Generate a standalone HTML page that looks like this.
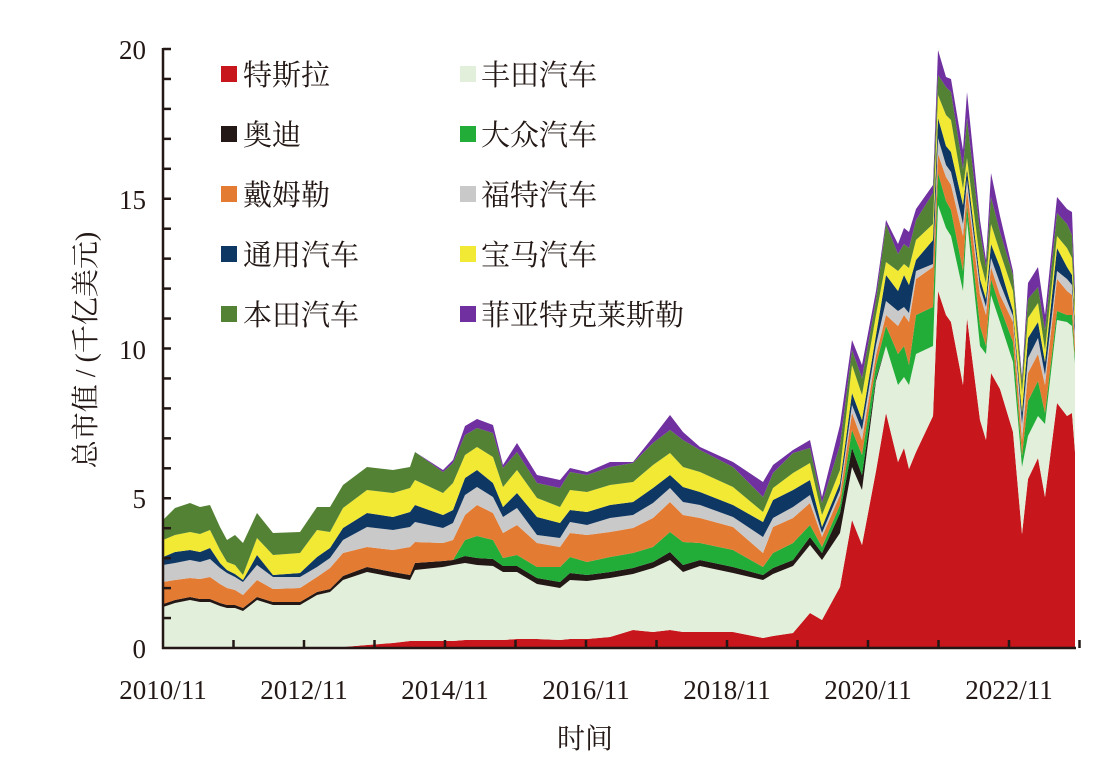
<!DOCTYPE html>
<html><head><meta charset="utf-8"><style>
body{margin:0;background:#fff;}
svg text{font-family:"Liberation Serif","Noto Serif CJK SC","Noto Sans CJK SC",serif;fill:#231815;}
</style></head><body>
<svg id="c" width="1100" height="766" viewBox="0 0 1100 766" xmlns="http://www.w3.org/2000/svg">
<g id="areas"></g>
<g stroke="#231815" stroke-width="2.5" fill="none">
<line x1="163" y1="48" x2="163" y2="649"/>
<line x1="162" y1="648" x2="1076" y2="648"/>
</g>
<g id="ticks" stroke="#231815" stroke-width="2.5"></g>
<g font-size="27" text-anchor="end">
<text x="146" y="658">0</text><text x="146" y="508">5</text><text x="146" y="359">10</text><text x="146" y="209">15</text><text x="146" y="59">20</text>
</g>
<g font-size="27" text-anchor="middle">
<text x="163" y="699">2010/11</text><text x="304" y="699">2012/11</text><text x="445" y="699">2014/11</text><text x="586" y="699">2016/11</text><text x="727" y="699">2018/11</text><text x="868" y="699">2020/11</text><text x="1009" y="699">2022/11</text>
<text x="585" y="748" font-size="28">时间</text>
<text transform="translate(95,350) rotate(-90)" font-size="28">总市值 / (千亿美元)</text>
</g>
<g font-size="29">
<rect x="221" y="66" width="16" height="16" fill="#c8161d"/><text x="243" y="85">特斯拉</text>
<rect x="221" y="126" width="16" height="16" fill="#231815"/><text x="243" y="145">奥迪</text>
<rect x="221" y="186" width="16" height="16" fill="#e47b33"/><text x="243" y="205">戴姆勒</text>
<rect x="221" y="246" width="16" height="16" fill="#0f3763"/><text x="243" y="265">通用汽车</text>
<rect x="221" y="306" width="16" height="16" fill="#548235"/><text x="243" y="325">本田汽车</text>
<rect x="460" y="66" width="16" height="16" fill="#e2efda"/><text x="481" y="85">丰田汽车</text>
<rect x="460" y="126" width="16" height="16" fill="#22ac38"/><text x="481" y="145">大众汽车</text>
<rect x="460" y="186" width="16" height="16" fill="#c9c9c9"/><text x="481" y="205">福特汽车</text>
<rect x="460" y="246" width="16" height="16" fill="#f1e933"/><text x="481" y="265">宝马汽车</text>
<rect x="460" y="306" width="16" height="16" fill="#7030a0"/><text x="481" y="325">菲亚特克莱斯勒</text>
</g>
</svg>
<script>
var D=[
[163,648,607,604,604,582,565,557,540,520,520],
[175,648,603,600,600,580,563,552,535,508,508],
[190,648,600,597,597,578,560,550,532,503,503],
[200,648,602,599,599,579,562,552,534,507,507],
[210,648,602,599,599,577,559,548,530,505,505],
[220,648,606,603,603,584,568,563,550,527,527],
[227,648,608,605,605,588,573,570,562,540,540],
[235,648,608,605,605,590,577,574,565,535,535],
[243,648,611,608,608,595,582,580,575,543,543],
[257,648,600,597,597,580,565,555,538,513,513],
[273,648,605,602,602,589,577,575,555,533,533],
[300,648,605,602,602,588,577,573,553,532,532],
[317,648,595,592,592,577,567,557,530,507,507],
[330,648,592,589,589,568,558,548,532,507,507],
[343,647,580,576,576,553,540,528,508,485,485],
[367,645,572,567,567,547,527,513,490,467,467],
[393,643,577,572,572,550,530,517,493,470,470],
[410,641,580,575,575,547,527,512,488,467,467],
[415,641,570,563,563,542,522,505,480,452,452],
[443,641,567,561,561,543,528,515,493,472,470],
[453,641,565,560,560,540,523,510,483,463,460],
[465,640,563,556,540,515,495,478,455,435,426],
[477,640,565,558,536,505,487,470,447,428,419],
[493,640,566,559,540,513,497,483,457,433,425],
[503,640,572,566,558,533,517,507,487,468,465],
[517,639,572,566,555,525,508,493,470,452,443],
[537,639,584,578,567,543,535,517,498,483,475],
[560,640,588,582,567,547,538,523,507,488,480],
[570,639,580,573,557,533,522,510,490,472,468],
[587,639,581,575,562,535,525,512,492,475,472],
[610,637,578,572,557,532,518,505,485,467,462],
[633,630,574,568,553,528,515,502,482,463,462],
[653,632,568,562,547,518,503,488,465,443,437],
[670,630,560,552,532,502,488,475,453,430,415],
[683,632,572,565,542,515,502,487,467,440,432],
[700,632,566,560,543,518,505,492,472,450,447],
[733,632,573,567,550,527,517,505,487,467,462],
[763,638,580,575,567,553,537,522,512,497,482],
[773,636,574,568,553,527,518,500,488,473,465],
[793,633,566,560,543,518,507,490,473,453,450],
[810,613,545,537,525,503,495,480,463,448,440],
[822,620,560,553,547,537,533,527,515,503,497],
[840,587,533,513,505,495,490,483,470,445,425],
[852,520,467,448,430,413,405,393,365,350,340],
[862,545,490,475,455,440,430,420,395,378,365],
[876,471,381,378,365,355,345,335,315,300,291],
[886,413,346,346,326,315,301,275,262,224,220],
[898,462,385,385,354,326,311,291,271,254,244],
[904,448,377,377,346,315,307,275,264,244,228],
[909,469,385,385,365,322,313,285,268,248,232],
[916,452,354,354,315,279,271,260,240,220,209],
[933,416,346,346,307,267,264,240,224,193,185],
[938,291,205,205,173,154,138,118,95,75,50],
[946,315,228,228,201,177,165,146,115,87,77],
[951,322,236,236,210,185,172,152,120,92,79],
[963,385,291,291,271,236,224,205,189,169,150],
[967,318,220,220,205,189,180,169,158,118,92],
[980,420,346,346,326,295,287,279,260,232,220],
[986,440,354,354,346,315,307,299,283,267,260],
[991,373,295,295,279,267,258,244,224,197,173],
[1000,389,322,322,307,295,283,267,252,232,216],
[1013,432,362,362,342,322,316,311,291,275,271],
[1022,534,467,467,456,440,424,413,393,381,377],
[1028,479,436,436,401,373,358,338,318,299,283],
[1038,458,416,416,381,354,338,322,303,287,267],
[1045,497,424,424,413,385,375,362,350,330,315],
[1057,403,320,320,311,279,271,248,236,213,197],
[1067,416,322,322,315,291,279,267,248,224,209],
[1072,413,326,326,315,295,285,275,258,235,212],
[1075,452,363,363,356,345,335,325,313,300,290]];
var C=["#c8161d","#e2efda","#231815","#22ac38","#e47b33","#c9c9c9","#0f3763","#f1e933","#548235","#7030a0"];
var s="";
for(var i=1;i<=10;i++){var p=[];
for(var j=0;j<D.length;j++)p.push(D[j][0]+","+D[j][i]);
for(var j=D.length-1;j>=0;j--)p.push(D[j][0]+","+(i==1?648:D[j][i-1]));
s+='<polygon points="'+p.join(" ")+'" fill="'+C[i-1]+'"/>';}
document.getElementById("areas").innerHTML=s;
var t="";
for(var v=1;v<=20;v++){var y=648-v*29.95;t+='<line x1="163" x2="171" y1="'+y+'" y2="'+y+'"/>';}
for(var k=1;k<=13;k++){var x=163+k*70.5;t+='<line x1="'+x+'" x2="'+x+'" y1="648" y2="640"/>';}
document.getElementById("ticks").innerHTML=t;
</script>
</body></html>
